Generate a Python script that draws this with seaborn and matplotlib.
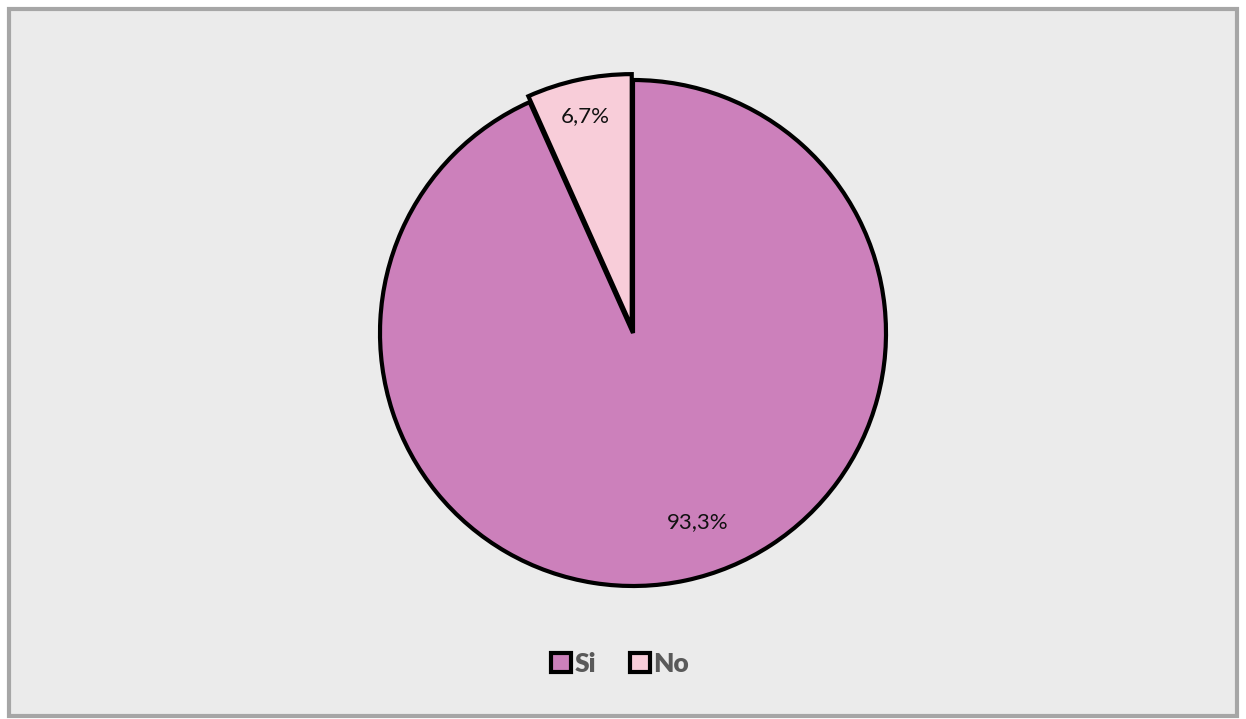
import matplotlib
matplotlib.use("Agg")
import matplotlib.pyplot as plt
import matplotlib.patches as mpatches
import seaborn as sns

categories = ["Si", "No"]
values = [93.3, 6.7]
pct_labels = ["93,3%", "6,7%"]
colors = ["#cc80bb", "#f8cdd9"]

sns.set_theme(style="white")
plt.rcParams["font.family"] = ["Lato", "DejaVu Sans"]

W, H = 1246, 719
fig = plt.figure(figsize=(W / 100, H / 100), dpi=100)
fig.patch.set_facecolor("#ffffff")
ax = fig.add_axes([0, 0, 1, 1])
ax.set_xlim(0, W)
ax.set_ylim(0, H)
ax.set_aspect("equal")
ax.axis("off")

# background panel with border
ax.add_patch(mpatches.Rectangle((9, 3), W - 18, H - 12, facecolor="#ebebeb",
                                edgecolor="#a6a6a6", linewidth=3, zorder=0))

cx, cy, r = 633, H - 333, 253
wedges, texts = ax.pie(values, colors=colors, startangle=90, counterclock=False,
                       center=(cx, cy), radius=r, explode=[0, 6],
                       wedgeprops=dict(edgecolor="black", linewidth=3),
                       frame=True)
ax.set_xlim(0, W)
ax.set_ylim(0, H)
ax.axis("off")

# percentage labels
ax.text(698, H - 522, pct_labels[0], ha="center", va="center", fontsize=16, color="#111111")
ax.text(585, H - 116, pct_labels[1], ha="center", va="center", fontsize=16, color="#111111")

handles = [mpatches.Patch(facecolor=c, edgecolor="black", linewidth=3, label=l)
           for c, l in zip(colors, categories)]
leg = ax.legend(handles=handles, loc="center", bbox_to_anchor=(620 / W, 1 - 664 / H),
                ncol=2, frameon=False, handlelength=0.75, handleheight=0.75,
                handletextpad=0.12, columnspacing=1.3,
                prop=dict(weight="heavy", size=19))
for t in leg.get_texts():
    t.set_color("#595959")

fig.savefig("out.png", dpi=100)
